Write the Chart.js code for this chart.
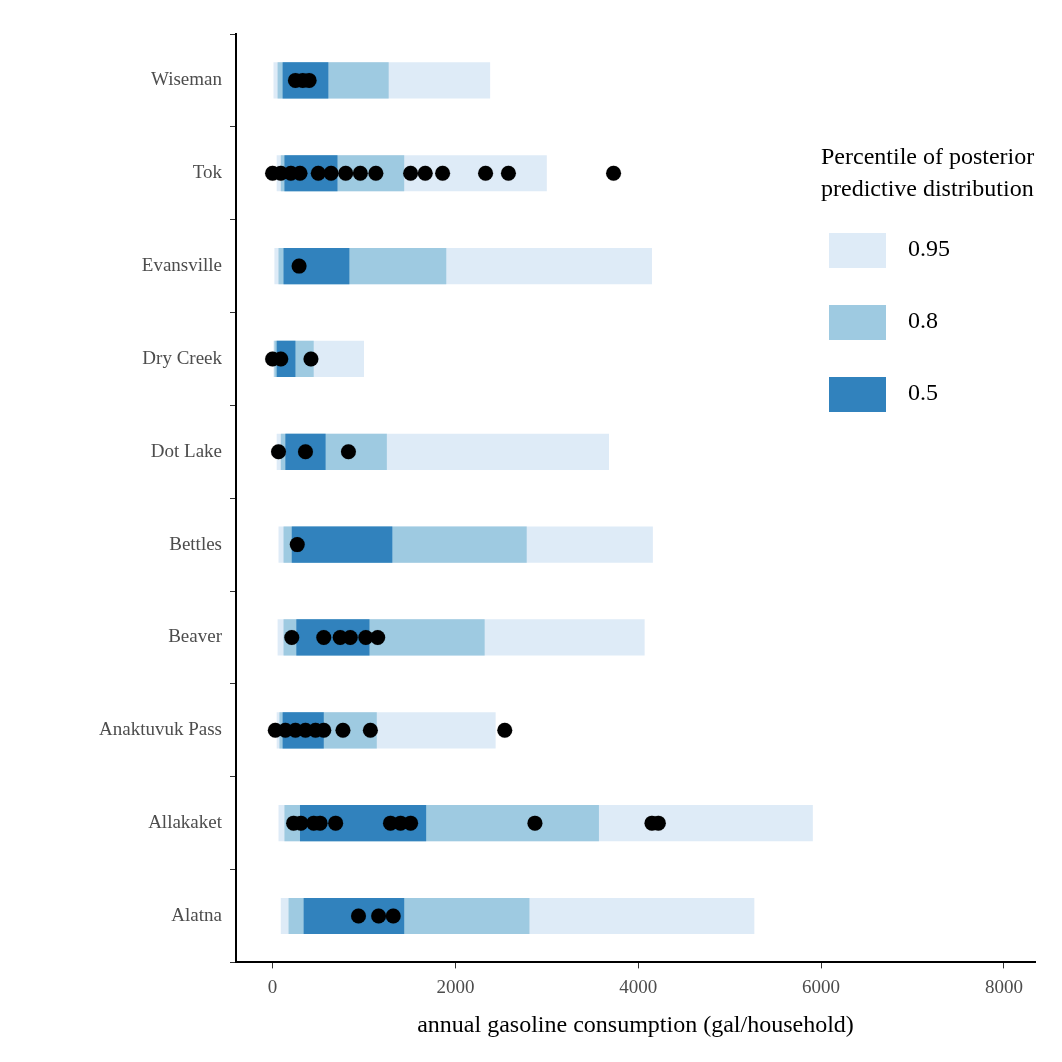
<!DOCTYPE html>
<html>
<head>
<meta charset="utf-8">
<script src="https://cdn.jsdelivr.net/npm/chart.js@4"></script>
<style>
  html, body { margin: 0; padding: 0; background: #fff; overflow: hidden; }
  #wrap { position: relative; width: 1062px; height: 1062px; }
  #legend { position: absolute; left: 821px; top: 140px; font-family: "Liberation Serif", serif; font-size: 24px; color: #000; white-space: nowrap; }
  .row { position: absolute; left: 8px; height: 35px; }
  .sw { position: absolute; left: 0; top: 0; width: 57px; height: 35px; }
  .lb { position: absolute; left: 79px; top: 2px; }
</style>
</head>
<body>
<div id="wrap">
  <canvas id="chart" width="1062" height="1062"></canvas>
  <div id="legend">
    <div style="line-height:32px">Percentile of posterior<br>predictive distribution</div>
    <div class="row" style="top:93px"><div class="sw" style="background:#deebf7"></div><div class="lb">0.95</div></div>
    <div class="row" style="top:165px"><div class="sw" style="background:#9ecae1"></div><div class="lb">0.8</div></div>
    <div class="row" style="top:237px"><div class="sw" style="background:#3182bd"></div><div class="lb">0.5</div></div>
  </div>
</div>
<script>
const communities = ['Wiseman', 'Tok', 'Evansville', 'Dry Creek', 'Dot Lake', 'Bettles', 'Beaver', 'Anaktuvuk Pass', 'Allakaket', 'Alatna'];
const interval95 = [[10, 2380], [45, 3000], [20, 4150], [10, 1000], [45, 3680], [65, 4160], [55, 4070], [45, 2440], [65, 5910], [90, 5270]];
const interval80 = [[55, 1270], [90, 1440], [65, 1900], [20, 450], [90, 1250], [120, 2780], [120, 2320], [75, 1140], [130, 3570], [175, 2810]];
const interval50 = [[110, 610], [130, 710], [120, 840], [45, 250], [140, 580], [210, 1310], [260, 1060], [110, 560], [300, 1680], [340, 1440]];
const observed = {
  'Wiseman': [250, 330, 400],
  'Tok': [0, 90, 200, 300, 500, 640, 800, 960, 1130, 1510, 1670, 1860, 2330, 2580, 3730],
  'Evansville': [290],
  'Dry Creek': [0, 90, 420],
  'Dot Lake': [65, 360, 830],
  'Bettles': [270],
  'Beaver': [210, 560, 740, 850, 1020, 1150],
  'Anaktuvuk Pass': [30, 140, 250, 360, 470, 560, 770, 1070, 2540],
  'Allakaket': [230, 310, 450, 520, 690, 1290, 1400, 1510, 2870, 4150, 4220],
  'Alatna': [940, 1160, 1320]
};
const xTicks = [0, 2000, 4000, 6000, 8000];

const points = [];
communities.forEach(c => observed[c].forEach(v => points.push({ x: v, y: c })));

const barOpts = { grouped: false, barPercentage: 0.39, categoryPercentage: 1, borderWidth: 0 };

new Chart(document.getElementById('chart'), {
  data: {
    labels: communities,
    datasets: [
      { type: 'scatter', data: points, backgroundColor: '#000', pointRadius: 7.5, pointHoverRadius: 7.5, order: 0 },
      Object.assign({ type: 'bar', data: interval50, backgroundColor: '#3182bd', order: 1 }, barOpts),
      Object.assign({ type: 'bar', data: interval80, backgroundColor: '#9ecae1', order: 2 }, barOpts),
      Object.assign({ type: 'bar', data: interval95, backgroundColor: '#deebf7', order: 3 }, barOpts)
    ]
  },
  options: {
    indexAxis: 'y',
    responsive: false,
    animation: false,
    layout: { padding: { top: 34, right: 27, left: 0, bottom: 18 } },
    plugins: { legend: { display: false }, tooltip: { enabled: false } },
    scales: {
      x: {
        type: 'linear', min: -400, max: 8340,
        afterBuildTicks: ax => { ax.ticks = xTicks.map(v => ({ value: v })); },
        grid: { drawOnChartArea: false, drawTicks: true, tickLength: 6, color: '#333' },
        border: { display: true, color: '#000', width: 2 },
        ticks: { color: '#4d4d4d', font: { family: 'Liberation Serif', size: 19 }, padding: 8, callback: v => String(v) },
        title: { display: true, text: 'annual gasoline consumption (gal/household)', color: '#000', font: { family: 'Liberation Serif', size: 24 }, padding: { top: 4 } }
      },
      y: {
        type: 'category', offset: true,
        afterFit: ax => { ax.width = 236; },
        grid: { drawOnChartArea: false, drawTicks: true, tickLength: 6, color: '#333' },
        border: { display: true, color: '#000', width: 2 },
        ticks: { color: '#4d4d4d', font: { family: 'Liberation Serif', size: 19 }, padding: 8 }
      }
    }
  }
});
</script>
</body>
</html>
